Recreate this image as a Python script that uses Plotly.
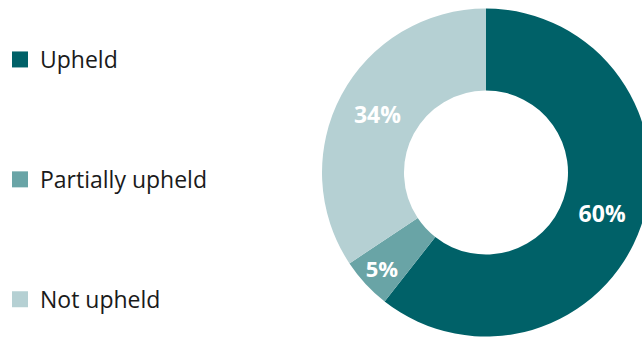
import plotly.graph_objects as go

categories = ["Upheld", "Partially upheld", "Not upheld"]
values = [60, 5, 34]
colors = ["#006168", "#69a4a6", "#b5d0d3"]

W, H = 650, 337

fig = go.Figure()
fig.add_trace(go.Pie(
    labels=categories, values=values, sort=False, direction="clockwise",
    hole=0.5, marker=dict(colors=colors, line=dict(width=0)),
    texttemplate="%{value}%", textposition="inside",
    insidetextorientation="horizontal",
    textfont=dict(family="Open Sans", size=23, color="white", weight="bold"),
    showlegend=False, hoverinfo="label+value",
    domain=dict(x=[322 / W, 1], y=[0, 0.976]),
))
for i, (c, col) in enumerate(zip(categories, colors)):
    fig.add_trace(go.Scatter(
        x=[None], y=[None], mode="markers", name=c, legendgroup=c,
        marker=dict(symbol="square", size=16, color=col),
    ))

fig.update_layout(
    width=W, height=H, margin=dict(l=0, r=0, t=0, b=0),
    paper_bgcolor="white", plot_bgcolor="white",
    xaxis=dict(visible=False), yaxis=dict(visible=False),
    showlegend=True,
    legend=dict(x=0, y=1 - 38 / H, xanchor="left", yanchor="top",
                traceorder="grouped", tracegroupgap=87,
                font=dict(family="Open Sans", size=23, color="#1a1a1a"),
                bgcolor="rgba(0,0,0,0)"),
)
fig.write_html("out.html", post_script="document.body.style.overflow='hidden';document.documentElement.style.overflow='hidden';")
